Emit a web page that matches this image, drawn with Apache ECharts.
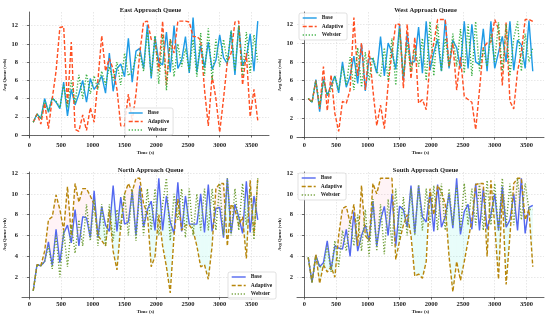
<!DOCTYPE html>
<html><head><meta charset="utf-8">
<script src="https://cdn.jsdelivr.net/npm/echarts@6/dist/echarts.min.js"></script>
<style>html,body{margin:0;padding:0;background:#fff}#c{width:550px;height:320px}</style>
</head><body><div id="c"></div>
<script>
const times = [60,120,180,240,300,360,420,480,540,600,660,720,780,840,900,960,1020,1080,1140,1200,1260,1320,1380,1440,1500,1560,1620,1680,1740,1800,1860,1920,1980,2040,2100,2160,2220,2280,2340,2400,2460,2520,2580,2640,2700,2760,2820,2880,2940,3000,3060,3120,3180,3240,3300,3360,3420,3480,3540,3600];
const xTicks = [0,500,1000,1500,2000,2500,3000,3500];
const yTicksTop = [0,2,4,6,8,10,12];
const yTicksBottom = [2,4,6,8,10,12];
const seriesNames = ['Base','Adaptive','Webster'];
const titles = ['East Approach Queue','West Approach Queue','North Approach Queue','South Approach Queue'];

const eastBase = [1.4,2.3,1.8,4.0,2.5,4.1,3.6,2.9,5.8,2.1,5.0,3.3,4.5,6.0,3.6,6.2,5.0,5.6,6.5,4.6,9.0,4.8,7.3,7.8,6.4,10.6,5.8,9.2,9.5,7.3,12.1,6.2,10.8,8.0,7.7,11.3,6.9,12.0,7.3,8.2,10.8,6.8,12.9,6.9,9.8,7.4,10.2,7.2,8.2,11.0,8.5,7.8,11.4,6.6,12.0,7.6,8.5,11.1,7.0,12.5];
const eastAdaptive = [1.4,2.3,1.2,3.5,0.7,4.0,7.0,11.8,11.9,3.3,10.2,0.6,0.4,2.2,0.5,3.0,1.4,6.0,10.9,7.0,8.4,7.2,5.0,1.0,1.0,4.5,1.5,4.5,9.0,12.4,12.5,10.5,10.4,7.0,12.5,5.5,10.5,9.0,12.5,12.5,12.5,12.4,10.8,10.8,10.4,5.0,1.0,6.5,4.0,0.3,4.0,8.0,9.0,12.4,12.5,5.5,9.0,2.0,5.0,1.6];
const eastWebster = [1.4,2.3,1.8,3.8,2.6,4.0,3.7,3.0,5.5,3.0,6.0,3.5,6.6,4.0,6.7,4.5,6.5,5.0,7.0,5.5,7.5,6.0,8.0,5.5,9.0,6.5,7.0,8.5,9.0,7.0,11.5,6.5,10.9,5.6,11.0,4.9,10.5,6.4,10.0,7.5,9.5,7.0,10.5,6.4,11.2,6.5,11.7,6.0,10.5,7.5,10.5,8.0,11.5,7.0,12.0,6.5,11.3,6.8,11.0,8.0];

const westBase = [4.1,3.7,6.1,2.7,6.2,4.4,5.5,6.5,4.7,8.0,5.3,6.5,8.6,5.7,9.9,4.9,8.4,8.3,6.8,10.7,6.5,10.0,9.0,7.2,12.0,6.0,11.0,7.8,8.1,11.7,6.8,12.3,7.1,9.0,10.4,7.0,12.5,7.3,10.3,9.5,7.3,12.3,7.3,12.0,8.0,7.7,11.5,7.0,12.3,7.3,9.0,10.7,8.0,12.3,7.1,10.3,9.8,7.3,12.4,7.0];
const westAdaptive = [4.1,3.7,6.0,3.0,7.5,2.8,6.6,2.5,0.6,3.8,3.6,5.0,12.7,6.5,10.0,5.0,9.2,5.0,1.2,3.4,0.9,5.6,9.0,12.0,12.0,5.2,12.0,6.2,10.6,3.6,4.0,2.9,8.0,10.0,12.5,12.5,12.5,7.5,10.0,5.0,8.5,4.3,4.0,3.7,0.8,5.0,9.5,10.0,10.1,12.5,11.5,5.5,12.2,3.8,3.0,7.0,9.0,12.5,12.5,12.3];
const westWebster = [4.1,3.7,6.0,3.2,6.0,4.5,5.0,6.5,5.0,7.5,5.5,8.5,5.0,9.5,5.3,9.0,6.0,8.5,7.0,6.4,9.5,6.0,10.5,5.5,11.5,6.5,10.0,7.0,9.5,7.5,10.5,6.0,12.3,6.5,12.0,7.0,10.5,7.5,11.0,7.5,11.5,6.8,12.0,6.5,12.3,7.0,9.5,7.5,11.0,8.0,12.2,7.0,12.0,6.5,10.5,12.3,7.0,11.0,8.0,9.5];

const northBase = [0.7,3.2,3.1,3.5,5.4,3.1,6.6,3.4,6.2,7.0,5.3,8.5,5.0,7.8,7.7,5.8,10.3,5.8,8.8,7.0,6.4,10.8,6.4,9.7,7.1,7.3,10.2,6.0,10.8,6.8,8.5,9.3,6.5,11.5,6.5,9.8,7.3,6.2,11.1,6.4,9.8,7.1,7.1,7.1,10.0,6.3,10.9,6.4,8.6,8.7,5.8,11.5,6.2,9.0,7.8,6.2,11.2,6.3,9.8,7.5];
const northAdaptive = [0.7,3.2,3.1,4.5,7.5,7.8,9.9,8.5,6.5,10.7,6.0,11.0,9.2,10.5,10.5,9.8,9.0,6.0,5.5,5.0,8.5,4.5,2.7,7.0,10.0,11.0,10.2,11.5,11.5,9.0,8.2,3.0,4.0,8.0,5.0,3.0,0.5,6.0,9.5,6.5,7.0,7.0,6.5,5.0,3.0,3.2,1.8,5.0,10.5,11.0,11.0,5.0,9.0,8.5,7.0,7.8,3.8,11.3,6.0,11.5];
const northWebster = [0.7,3.2,3.1,3.5,5.0,2.8,6.0,2.0,6.5,3.0,7.0,4.3,7.5,5.0,9.0,5.5,9.5,5.0,9.0,5.0,9.0,5.5,8.5,6.5,10.0,6.0,10.5,5.5,10.5,6.0,10.5,6.5,10.5,6.0,9.0,11.5,5.5,10.0,7.5,10.5,5.8,10.5,6.0,10.0,6.5,10.5,6.5,10.5,6.5,11.0,6.0,11.5,6.0,10.5,6.5,11.0,7.0,10.5,5.6,11.5];

const southBase = [3.9,1.5,4.1,3.0,3.4,5.5,2.7,5.0,4.8,4.7,6.6,4.0,8.3,4.5,6.0,7.0,5.5,9.3,5.0,7.5,8.8,6.0,10.0,5.0,8.8,8.5,6.8,10.8,6.2,10.8,7.8,7.3,10.2,6.4,10.9,6.8,7.8,10.0,6.7,11.5,6.1,8.3,9.0,6.6,11.0,6.5,10.5,6.6,8.0,10.0,6.5,10.7,6.8,7.5,10.0,6.5,11.5,6.2,8.7,8.9];
const southAdaptive = [3.9,1.5,4.2,1.4,3.2,2.5,3.0,2.0,6.0,8.6,8.8,7.2,9.0,5.0,10.8,6.0,5.5,11.0,10.0,11.5,11.5,11.5,11.5,3.7,5.5,7.0,8.0,6.0,2.1,2.3,1.9,3.5,10.5,8.0,10.8,10.2,9.0,4.0,0.6,3.5,1.7,3.5,5.5,7.5,10.9,11.0,11.0,4.0,11.3,7.0,1.8,10.0,1.3,6.0,11.0,11.5,11.5,7.5,8.5,3.0];
const southWebster = [3.9,1.5,4.0,3.0,3.0,5.0,2.5,5.5,3.0,6.5,4.5,7.5,5.0,8.0,4.5,8.5,4.0,9.5,4.5,9.0,4.2,9.5,5.0,10.5,5.5,9.7,6.0,10.5,6.0,10.9,6.5,10.5,7.0,10.8,6.5,11.0,6.5,10.5,7.0,10.8,6.5,11.0,7.0,10.5,7.0,11.0,6.5,11.3,7.0,11.0,6.5,11.5,7.0,11.0,7.0,11.5,7.5,11.0,8.5,8.5];

const FONT = '"Liberation Serif", "DejaVu Serif", serif';
const PINK = 'rgba(255,120,150,0.09)';
const CYAN = 'rgba(0,230,200,0.09)';

const panels = [
  {title:titles[0], data:[eastBase,eastAdaptive,eastWebster], colors:['#1E9BE6','#FF4F22','#3CB043'], yMin:-0.33, yMax:13.5, yTicks:yTicksTop, grid:{left:22,top:12,width:247,height:126}, legend:{left:125,top:108}, shade:false},
  {title:titles[1], data:[westBase,westAdaptive,westWebster], colors:['#1E9BE6','#FF4F22','#3CB043'], yMin:-0.1, yMax:13.3, yTicks:yTicksTop, grid:{left:297,top:12,width:247,height:126}, legend:{left:299,top:13}, shade:false},
  {title:titles[2], data:[northBase,northAdaptive,northWebster], colors:['#5468F0','#B8860B','#72A03A'], yMin:0.1, yMax:12.1, yTicks:yTicksBottom, grid:{left:22,top:172,width:247,height:125}, legend:{left:228,top:272}, shade:true},
  {title:titles[3], data:[southBase,southAdaptive,southWebster], colors:['#5468F0','#B8860B','#72A03A'], yMin:0.1, yMax:12.1, yTicks:yTicksBottom, grid:{left:297,top:172,width:247,height:125}, legend:{left:298,top:173}, shade:true}
];
const lineTypes = ['solid',[4,2],[1.2,1.8]];

function shadeSeries(idx, base, adapt) {
  const rows = [];
  for (let i = 0; i < times.length - 1; i++) rows.push([times[i], base[i], adapt[i], times[i+1], base[i+1], adapt[i+1]]);
  return {
    type:'custom', xAxisIndex:idx, yAxisIndex:idx, silent:true, z:1,
    data: rows, encode:{x:[0,3], y:[1,2,4,5]},
    renderItem(params, api) {
      const t0=api.value(0), b0=api.value(1), a0=api.value(2), t1=api.value(3), b1=api.value(4), a1=api.value(5);
      const d0=a0-b0, d1=a1-b1;
      const children = [];
      const poly = (pts, pos) => children.push({type:'polygon', shape:{points:pts.map(p => api.coord(p))}, style:{fill: pos ? PINK : CYAN}});
      if (d0 * d1 >= 0) {
        poly([[t0,b0],[t1,b1],[t1,a1],[t0,a0]], (d0 + d1) > 0);
      } else {
        const f = d0 / (d0 - d1);
        const tc = t0 + f * (t1 - t0), yc = b0 + f * (b1 - b0);
        poly([[t0,b0],[tc,yc],[t0,a0]], d0 > 0);
        poly([[tc,yc],[t1,b1],[t1,a1]], d1 > 0);
      }
      return {type:'group', children};
    }
  };
}

const option = {
  backgroundColor:'#fff', animation:false,
  title:[], grid:[], xAxis:[], yAxis:[], legend:[], series:[]
};
panels.forEach((p, i) => {
  const g = p.grid;
  option.grid.push(Object.assign({containLabel:false}, g));
  option.title.push({text:p.title, left:g.left + g.width/2, top:g.top - 10, textAlign:'center',
    textStyle:{fontFamily:FONT, fontWeight:'bold', fontSize:6.5, color:'#222'}});
  const axisLine = {show:true, lineStyle:{color:'#444', width:0.8}};
  const split = {show:true, lineStyle:{color:'#d8d8d8', type:[1.5,1.5], width:0.6}};
  const lab = {fontFamily:FONT, fontWeight:'bold', fontSize:6.5, color:'#222', formatter: v => String(v)};
  option.xAxis.push({gridIndex:i, type:'value', min:-117, max:3777,
    axisLine, axisTick:{show:true, length:2.5, customValues:xTicks, lineStyle:{color:'#444', width:0.8}},
    axisLabel:Object.assign({customValues:xTicks, margin:4}, lab), splitLine:split,
    name:'Time (s)', nameLocation:'middle', nameGap:12.5, nameTextStyle:{fontFamily:FONT, fontWeight:'bold', fontSize:5, color:'#222'}});
  option.yAxis.push({gridIndex:i, type:'value', min:p.yMin, max:p.yMax,
    axisLine, axisTick:{show:true, length:2.5, customValues:p.yTicks, lineStyle:{color:'#444', width:0.8}},
    axisLabel:Object.assign({customValues:p.yTicks, margin:4}, lab), splitLine:split,
    name:'Avg Queue (veh)', nameLocation:'middle', nameGap:15, nameTextStyle:{fontFamily:FONT, fontWeight:'bold', fontSize:4.6, color:'#222'}});
  if (p.shade) option.series.push(shadeSeries(i, p.data[0], p.data[1]));
  p.data.forEach((vals, k) => {
    option.series.push({type:'line', name:seriesNames[k], xAxisIndex:i, yAxisIndex:i, z:2+k,
      data: times.map((t, j) => [t, vals[j]]), symbol:'none', smooth:false,
      lineStyle:{color:p.colors[k], width:1.4, type:lineTypes[k]}, itemStyle:{color:p.colors[k]}});
  });
  option.legend.push({left:p.legend.left, top:p.legend.top, orient:'vertical', selectedMode:false,
    backgroundColor:'rgba(255,255,255,0.85)', borderColor:'#ccc', borderWidth:0.6, borderRadius:2,
    padding:[2,4,2,3], itemWidth:14, itemHeight:5, itemGap:2.5,
    textStyle:{fontFamily:FONT, fontWeight:'bold', fontSize:5.5, color:'#222'},
    data: seriesNames.map((n, k) => ({name:n, itemStyle:{color:p.colors[k], opacity:0, borderWidth:0},
      lineStyle:{color:p.colors[k], width:1.4, type:lineTypes[k], opacity:1}}))});
});
const chart = echarts.init(document.getElementById('c'), null, {renderer:'canvas'});
chart.setOption(option);
</script></body></html>
